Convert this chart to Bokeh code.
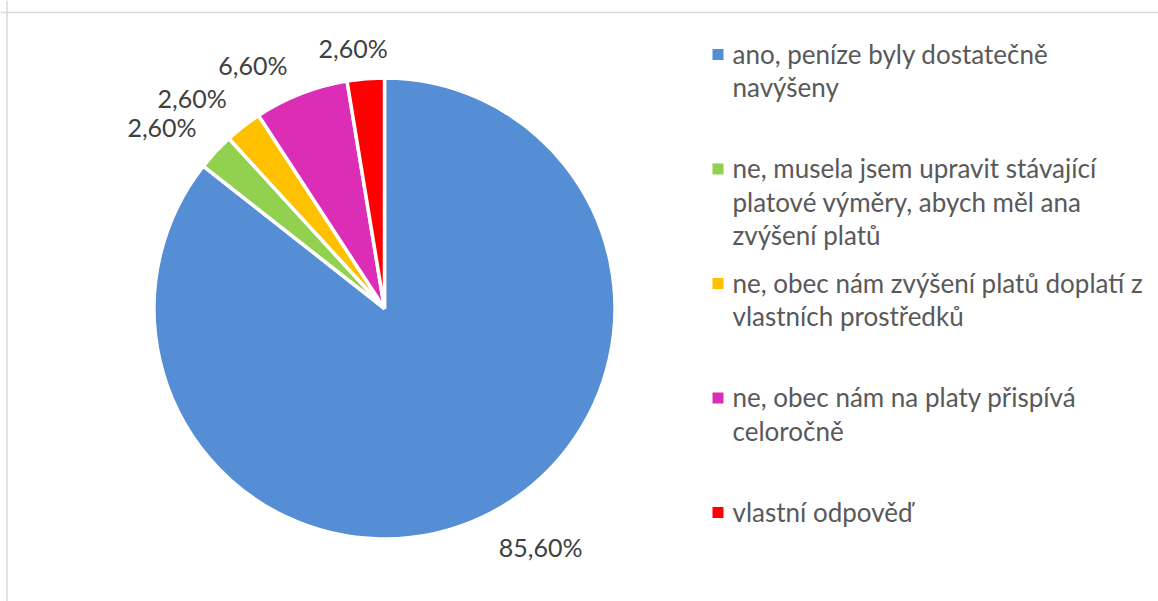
import math
from bokeh.plotting import figure
from bokeh.models import Range1d, Span, ColumnDataSource
from bokeh.core.properties import value
from bokeh.embed import file_html
from bokeh.resources import INLINE

# ---- data ----
categories = [
    "ano, peníze byly dostatečně\nnavýšeny",
    "ne, musela jsem upravit stávající\nplatové výměry, abych měl ana\nzvýšení platů",
    "ne, obec nám zvýšení platů doplatí z\nvlastních prostředků",
    "ne, obec nám na platy přispívá\nceloročně",
    "vlastní odpověď",
]
values = [85.6, 2.6, 2.6, 6.6, 2.6]
colors = ["#558ED5", "#92D050", "#FFC000", "#DC2DB6", "#FF0000"]

# ---- layout (pixel space) ----
W, H = 1158, 601
cx, cy, R = 384, 293, 230.5
label_nudge = [(36, 9), (-21, -5), (-24, -7), (-32, -13), (-9, -13)]
FONT = "Lato"

p = figure(width=W, height=H, output_backend="svg", toolbar_location=None,
           x_range=Range1d(0, W), y_range=Range1d(0, H), min_border=0)
p.axis.visible = False
p.grid.visible = False
p.outline_line_color = None
p.background_fill_color = "white"
p.border_fill_color = "white"

# chart border (top + left)
p.add_layout(Span(location=589, dimension="width", line_color="#D9D9D9", line_width=1.5))
p.add_layout(Span(location=6.5, dimension="height", line_color="#D9D9D9", line_width=1.5))

total = sum(values)
starts, ends, mids = [], [], []
cum = 0.0
for v in values:
    a0 = math.radians(90 - 360 * cum / total)
    cum += v
    a1 = math.radians(90 - 360 * cum / total)
    starts.append(a0)
    ends.append(a1)
    mids.append((a0 + a1) / 2)

src = ColumnDataSource(dict(start=starts, end=ends, color=colors))
p.wedge(x=cx, y=cy, radius=R, start_angle="start", end_angle="end", direction="clock",
        fill_color="color", line_color="white", line_width=3.5, source=src)

# data labels
lx, ly, lt = [], [], []
for m, v, (nx, ny) in zip(mids, values, label_nudge):
    lx.append(cx + 1.2 * (R - 1.5) * math.cos(m) + nx)
    ly.append(cy + 1.2 * (R - 1.5) * math.sin(m) + ny)
    lt.append(f"{v:.2f}".replace(".", ",") + "%")
p.text(x=lx, y=ly, text=lt, text_font=value(FONT), text_font_size="25px",
       text_color="#404040", text_align="center", text_baseline="middle")

# legend
leg_top = H - 53
item_step = 114.5
line_step = 33.5
sq_x = 717.5
tx = 732
tx_l, ty_l, tt_l = [], [], []
sqx, sqy = [], []
for i, (cat, col) in enumerate(zip(categories, colors)):
    y0 = leg_top - i * item_step
    sqx.append(sq_x)
    sqy.append(y0 - 1)
    for j, line in enumerate(cat.split("\n")):
        tx_l.append(tx)
        ty_l.append(y0 - j * line_step)
        tt_l.append(line)
p.rect(x=sqx, y=sqy, width=11, height=11, fill_color=colors, line_color=None)
p.text(x=tx_l, y=ty_l, text=tt_l, text_font=value(FONT), text_font_size="26px",
       text_color="#595959", text_align="left", text_baseline="middle")

open("out.html", "w").write(file_html(p, INLINE))
